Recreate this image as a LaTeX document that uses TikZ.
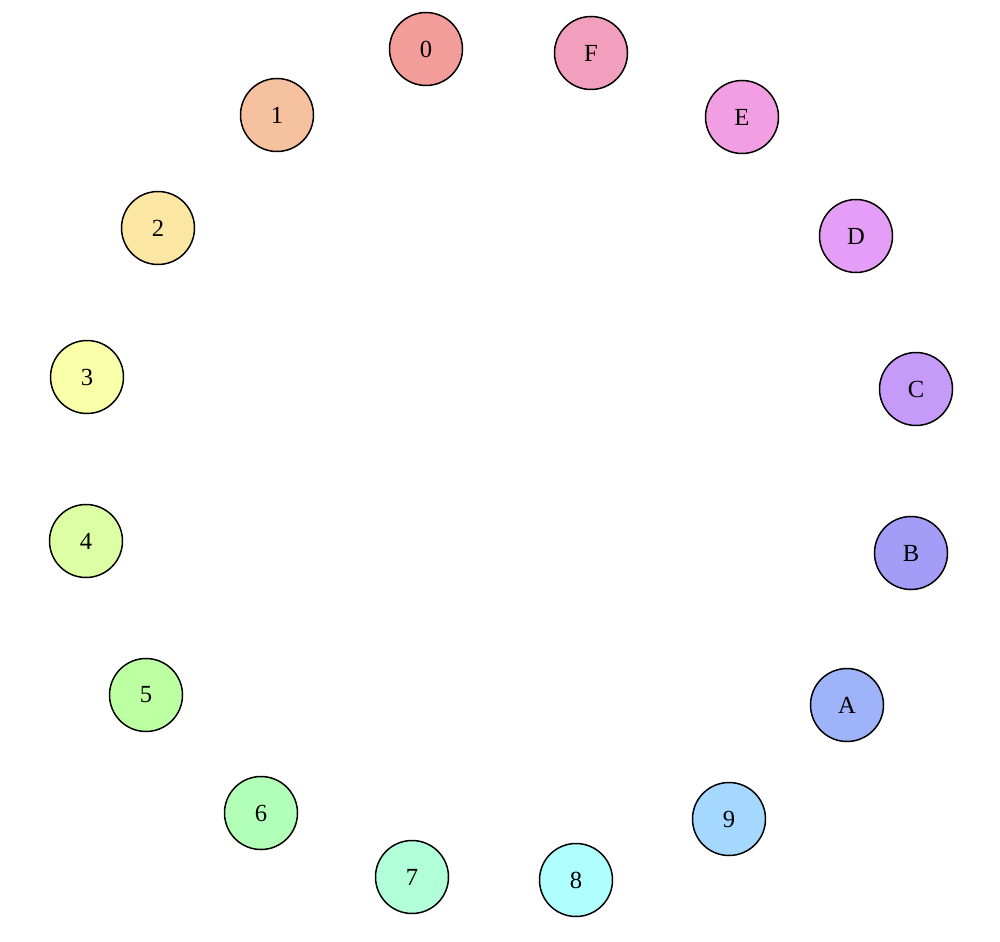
\documentclass[tikz,border=0pt]{standalone}
\usepackage{fontspec}
\setmainfont{Liberation Serif}
\definecolor{c0}{HTML}{F29D99}
\definecolor{c1}{HTML}{F5C19F}
\definecolor{c2}{HTML}{FBE6A3}
\definecolor{c3}{HTML}{F8FFA8}
\definecolor{c4}{HTML}{DCFFA3}
\definecolor{c5}{HTML}{BDFFA3}
\definecolor{c6}{HTML}{B2FFB8}
\definecolor{c7}{HTML}{B0FFD9}
\definecolor{c8}{HTML}{B0FFFF}
\definecolor{c9}{HTML}{A5D8FF}
\definecolor{cA}{HTML}{9FB3FA}
\definecolor{cB}{HTML}{A39DF8}
\definecolor{cC}{HTML}{C59AF8}
\definecolor{cD}{HTML}{E59EF7}
\definecolor{cE}{HTML}{F19FE2}
\definecolor{cF}{HTML}{F19FBD}
\newlength{\px}
\setlength{\px}{0.02cm}
\tikzset{vert/.style={circle,draw=black,line width=0.85pt,minimum size=73\px,inner sep=0pt,font=\fontsize{14}{16}\selectfont}}
\begin{document}
\begin{tikzpicture}[x=0.02cm,y=-0.02cm]
\useasboundingbox (0,0) rectangle (1000,942);
\node[vert,fill=c0] (n0) at (426,49) {0};
\node[vert,fill=cF] (nF) at (591,53) {F};
\node[vert,fill=cE] (nE) at (742,117) {E};
\node[vert,fill=cD] (nD) at (856,236) {D};
\node[vert,fill=cC] (nC) at (916,389) {C};
\node[vert,fill=cB] (nB) at (911,553) {B};
\node[vert,fill=cA] (nA) at (847,705) {A};
\node[vert,fill=c9] (n9) at (729,819) {9};
\node[vert,fill=c8] (n8) at (576,880) {8};
\node[vert,fill=c7] (n7) at (412,877) {7};
\node[vert,fill=c6] (n6) at (261,813) {6};
\node[vert,fill=c5] (n5) at (146,695) {5};
\node[vert,fill=c4] (n4) at (86,541) {4};
\node[vert,fill=c3] (n3) at (87,377) {3};
\node[vert,fill=c2] (n2) at (158,228) {2};
\node[vert,fill=c1] (n1) at (277,115) {1};
\end{tikzpicture}
\end{document}
